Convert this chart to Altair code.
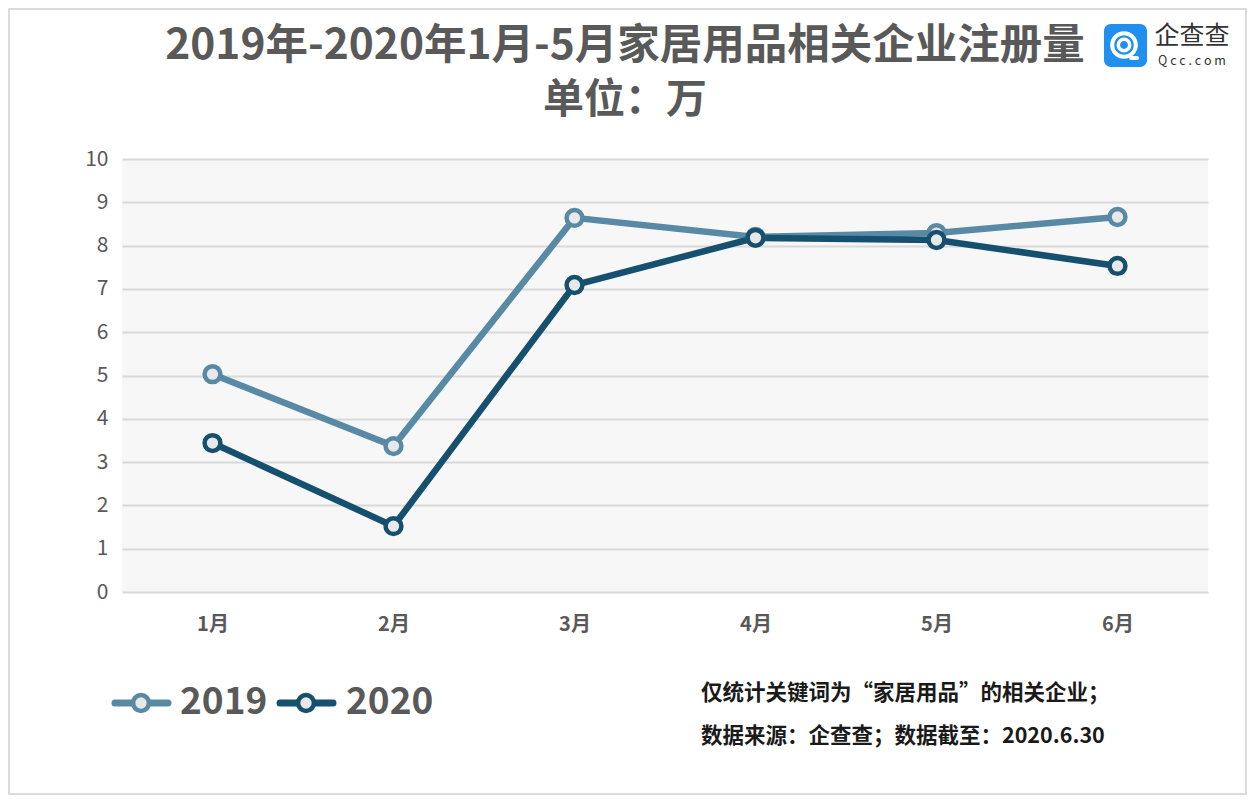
import altair as alt
import pandas as pd

months = ["1月", "2月", "3月", "4月", "5月", "6月"]
v2019 = [5.03, 3.37, 8.64, 8.20, 8.29, 8.66]
v2020 = [3.44, 1.52, 7.09, 8.18, 8.13, 7.53]
series = ["2019", "2020"]
colors = ["#5889a5", "#15506f"]
y_ticks = list(range(0, 11))

title1 = "2019年-2020年1月-5月家居用品相关企业注册量"
title2 = "单位：万"
note1 = "仅统计关键词为“家居用品”的相关企业；"
note2 = "数据来源：企查查；数据截至：2020.6.30"

FONT = "Noto Sans CJK SC"
W, H = 1086, 433

rows = []
for s, vals in zip(series, [v2019, v2020]):
    for m, v in zip(months, vals):
        rows.append({"month": m, "value": v, "series": s})
df = pd.DataFrame(rows)

x = alt.X("month:N", sort=months, title=None,
          axis=alt.Axis(labelAngle=0, labelFontSize=20, labelFont=FONT, labelFontWeight="bold",
                        labelColor="#595959", ticks=False, domain=False, labelPadding=22, grid=False))
y = alt.Y("value:Q", title=None, scale=alt.Scale(domain=[0, 10], nice=False),
          axis=alt.Axis(values=y_ticks, labelFontSize=21, labelFont=FONT, labelColor="#595959",
                        ticks=False, domain=False, labelPadding=14, gridColor="#d9d9d9",
                        gridWidth=2))
color = alt.Color("series:N", scale=alt.Scale(domain=series, range=colors), legend=None)

base = alt.Chart(df)
lines = base.mark_line(strokeWidth=6.5).encode(x=x, y=y, color=color, detail="series:N")
pts = base.mark_point(filled=False, fill="#e8e8e8", strokeWidth=4.5, size=250, opacity=1).encode(
    x=x, y=y, stroke=alt.Stroke("series:N", scale=alt.Scale(domain=series, range=colors), legend=None))

def txt(t, px, py, size, weight="normal", color="#595959", align="center", font=FONT, baseline="middle"):
    return alt.Chart(pd.DataFrame({"a": [0]})).mark_text(
        text=t, fontSize=size, fontWeight=weight, color=color, align=align, baseline=baseline,
        font=font).encode(x=alt.value(px - 122), y=alt.value(py - 159))

def rule(x1, x2, py, c, w):
    return alt.Chart(pd.DataFrame({"a": [0]})).mark_rule(color=c, strokeWidth=w, strokeCap="round").encode(
        x=alt.value(x1 - 122), x2=alt.value(x2 - 122), y=alt.value(py - 159))

def dot(px, py, c, size=190, fill="#e8e8e8", sw=4):
    return alt.Chart(pd.DataFrame({"a": [0]})).mark_point(
        filled=False, fill=fill, stroke=c, strokeWidth=sw, size=size, opacity=1).encode(
        x=alt.value(px - 122), y=alt.value(py - 159))

border = alt.Chart(pd.DataFrame({"a": [0]})).mark_rect(
    fill=None, stroke="#d0d0d0", strokeWidth=1.5).encode(
    x=alt.value(-113), x2=alt.value(W + 38), y=alt.value(-150), y2=alt.value(H + 202))

logo_bg = alt.Chart(pd.DataFrame({"a": [0]})).mark_rect(
    fill="#1f8ff0", cornerRadius=7).encode(
    x=alt.value(1104 - 122), x2=alt.value(1147 - 122), y=alt.value(24 - 159), y2=alt.value(67 - 159))

decor = [
    border,
    txt(title1, 625, 46, 42.5, "bold"),
    txt(title2, 625, 101, 41, "bold"),
    logo_bg,
    dot(1124, 45, "white", size=560, fill="#1f8ff0", sw=4),
    dot(1124, 45, "white", size=130, fill="#1f8ff0", sw=3.5),
    rule(1131, 1137, 58, "white", 4),
    txt("企查查", 1192, 36, 25, color="#333333"),
    txt("Q c c . c o m", 1192, 61, 12.5, color="#333333"),
    rule(115, 168, 703, colors[0], 7),
    dot(141, 703, colors[0], size=250, sw=4.5),
    txt("2019", 180, 703, 37, "bold", align="left"),
    rule(280, 333, 703, colors[1], 7),
    dot(306, 703, colors[1], size=250, sw=4.5),
    txt("2020", 346, 703, 37, "bold", align="left"),
    txt(note1, 701, 694, 21.5, "bold", color="#1a1a1a", align="left"),
    txt(note2, 701, 737, 21.5, "bold", color="#1a1a1a", align="left"),
]

chart = alt.layer(lines, pts, *decor).properties(
    width=W, height=H,
    padding={"left": 114, "top": 151, "right": 39, "bottom": 204},
    autosize=alt.AutoSizeParams(type="none"),
    background="white",
).configure_view(fill="#f7f7f7", stroke=None)

chart.save("out.html", embed_options={"renderer": "svg", "actions": False})
